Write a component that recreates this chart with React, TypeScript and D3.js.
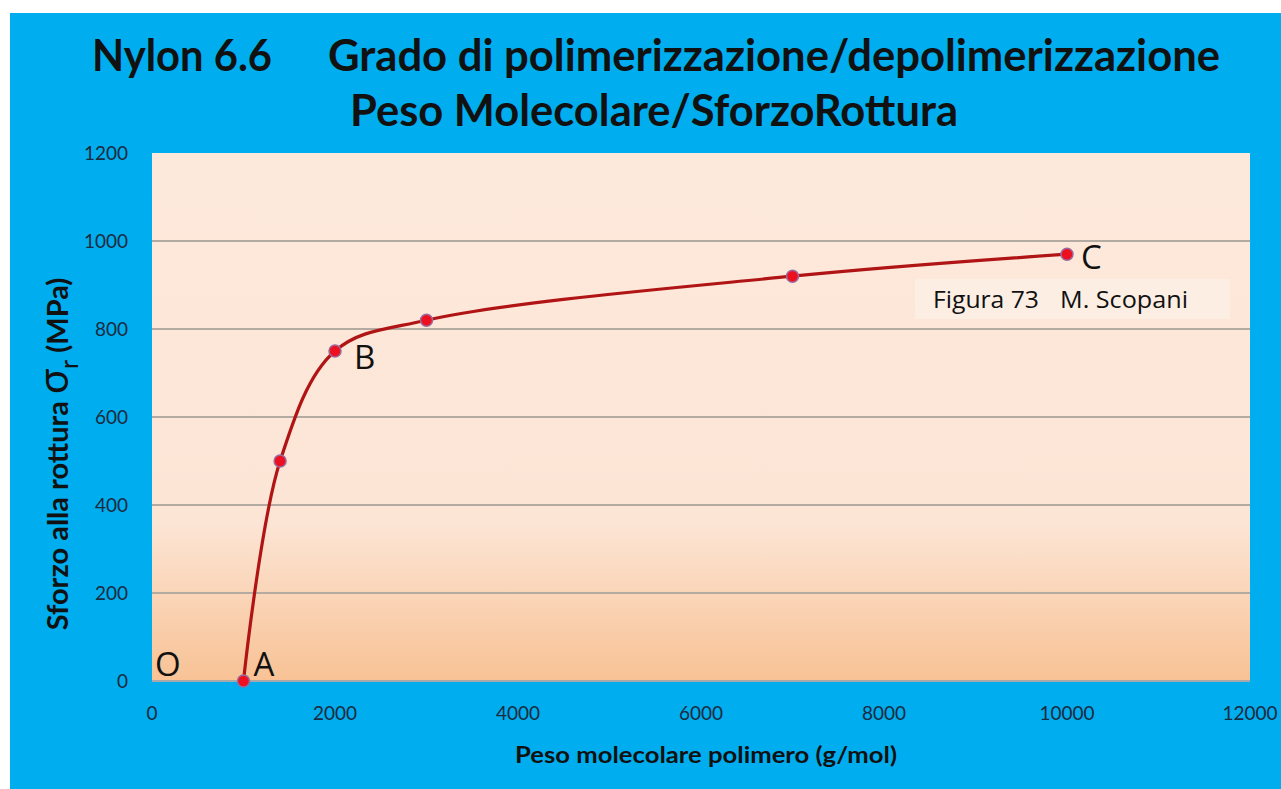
import React from "react";
import * as d3 from "d3";

const xValues = [1000, 1400, 2000, 3000, 7000, 10000];
const yValues = [0, 500, 750, 820, 920, 970];
const xTicks = [0, 2000, 4000, 6000, 8000, 10000, 12000];
const yTicks = [0, 200, 400, 600, 800, 1000, 1200];
const gridValues = [200, 400, 600, 800, 1000];
const pointLabels = [
  { t: "O", x: 0, y: 0 },
  { t: "A", x: 1000, y: 0 },
  { t: "B", x: 2000, y: 750 },
  { t: "C", x: 10000, y: 970 },
];

const W = 1281;
const H = 789;
const left = 152;
const right = 1250;
const top = 153;
const bottom = 681;

export default function App() {
  const x = d3.scaleLinear().domain([0, 12000]).range([left, right]);
  const y = d3.scaleLinear().domain([0, 1200]).range([bottom, top]);
  const pts = xValues.map((v, i) => [v, yValues[i]] as [number, number]);
  const line = d3
    .line<[number, number]>()
    .x((d) => x(d[0]))
    .y((d) => y(d[1]))
    .curve(d3.curveCatmullRom.alpha(0.5));
  const labelOffsets: Record<string, [number, number]> = {
    O: [3, -5],
    A: [10, -5],
    B: [19, 18],
    C: [14, 15],
  };
  const font = "Lato, 'Open Sans', sans-serif";
  const font2 = "'Open Sans', sans-serif";
  return (
    <svg
      width={W}
      height={H}
      style={{ position: "absolute", left: 0, top: 0, background: "#fff" }}
    >
      <defs>
        <linearGradient id="bg" x1="0" y1="0" x2="0" y2="1">
          <stop offset="0%" stopColor="#fde9dc" />
          <stop offset="70%" stopColor="#fce5d5" />
          <stop offset="100%" stopColor="#f8c295" />
        </linearGradient>
      </defs>
      <rect x={10} y={13} width={W - 10} height={H - 13} fill="#00adef" />
      <rect x={left} y={top} width={right - left} height={bottom - top} fill="url(#bg)" />
      {gridValues.map((g) => (
        <line key={g} x1={left} x2={right} y1={y(g)} y2={y(g)} stroke="#b3aaa2" strokeWidth={2} />
      ))}
      <line x1={left} x2={right} y1={bottom} y2={bottom} stroke="#a8a8a8" strokeWidth={2} />
      <rect x={915} y={279} width={315} height={40} fill="#fdeee4" />
      <text x={933} y={308} fontFamily={font2} fontSize={23} fill="#111" textLength={106} lengthAdjust="spacingAndGlyphs">
        Figura 73
      </text>
      <text x={1060} y={308} fontFamily={font2} fontSize={23} fill="#111" textLength={128} lengthAdjust="spacingAndGlyphs">
        M. Scopani
      </text>
      <path d={line(pts) || ""} fill="none" stroke="#b01414" strokeWidth={3.2} />
      {pts.map((p, i) => (
        <circle key={i} cx={x(p[0])} cy={y(p[1])} r={6} fill="#ec1020" stroke="#9c6a9c" strokeWidth={1.5} />
      ))}
      {pointLabels.map((l) => (
        <text
          key={l.t}
          x={x(l.x) + labelOffsets[l.t][0]}
          y={y(l.y) + labelOffsets[l.t][1]}
          fontFamily={font2}
          fontSize={33}
          fill="#111"
        >
          {l.t}
        </text>
      ))}
      {yTicks.map((t) => (
        <text key={t} x={128} y={y(t) + 7} textAnchor="end" fontFamily={font} fontSize={19} fill="#1b2a3e">
          {t}
        </text>
      ))}
      {xTicks.map((t) => (
        <text key={t} x={x(t)} y={720} textAnchor="middle" fontFamily={font} fontSize={19} fill="#1b2a3e">
          {t}
        </text>
      ))}
      <text x={92} y={71} fontFamily={font} fontWeight="bold" fontSize={43} fill="#111" textLength={180} lengthAdjust="spacingAndGlyphs">
        Nylon 6.6
      </text>
      <text x={328} y={71} fontFamily={font} fontWeight="bold" fontSize={43} fill="#111" textLength={892} lengthAdjust="spacingAndGlyphs">
        Grado di polimerizzazione/depolimerizzazione
      </text>
      <text x={350} y={126} fontFamily={font} fontWeight="bold" fontSize={43} fill="#111" textLength={608} lengthAdjust="spacingAndGlyphs">
        Peso Molecolare/SforzoRottura
      </text>
      <text x={706} y={763} textAnchor="middle" fontFamily={font} fontWeight="bold" fontSize={23} fill="#111" textLength={382} lengthAdjust="spacingAndGlyphs">
        Peso molecolare polimero (g/mol)
      </text>
      <text
        transform="translate(68,454) rotate(-90)"
        textAnchor="middle"
        fontFamily={font}
        fontWeight="bold"
        fontSize={29}
        fill="#111"
      >
        Sforzo alla rottura{" "}
        <tspan fontWeight="normal" fontSize={42}>σ</tspan>
        <tspan fontWeight="normal" fontSize={25} dy={10}>r</tspan>
        <tspan dy={-10}>{"  (MPa)"}</tspan>
      </text>
    </svg>
  );
}
